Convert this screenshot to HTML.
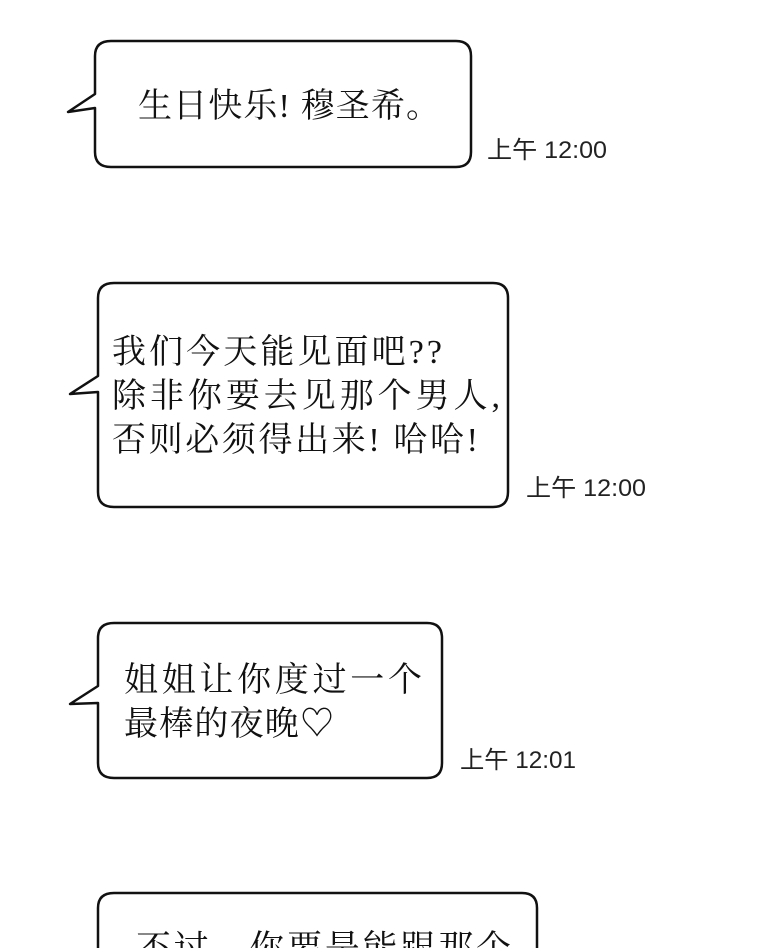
<!DOCTYPE html>
<html><head><meta charset="utf-8"><style>
html,body{margin:0;padding:0;background:#fff;}
svg{display:block}
.t{font-family:"Liberation Serif","Noto Serif CJK SC",serif;fill:#111;}
.ts{font-family:"Liberation Sans","Noto Sans CJK SC",sans-serif;fill:#222;font-size:24px;}
</style></head><body>
<svg width="760" height="948" viewBox="0 0 760 948" xmlns="http://www.w3.org/2000/svg">
<g fill="#fff" stroke="#111" stroke-width="2.5" stroke-linejoin="round">
<path d="M111,41 H456 Q471,41 471,56 V152 Q471,167 456,167 H111 Q95,167 95,152 V108 L68,112 L95,94 V56 Q95,41 111,41 Z"/>
<path d="M114,283 H493 Q508,283 508,298 V492 Q508,507 493,507 H114 Q98,507 98,492 V392 L70,394 L98,376 V298 Q98,283 114,283 Z"/>
<path d="M114,623 H427 Q442,623 442,638 V763 Q442,778 427,778 H114 Q98,778 98,763 V703 L70,704 L98,686 V638 Q98,623 114,623 Z"/>
<path d="M114,893 H522 Q537,893 537,908 V960 H98 V908 Q98,893 114,893 Z"/>
</g>
<text class="t" x="138" y="117" font-size="34" textLength="302" lengthAdjust="spacing">生日快乐! 穆圣希。</text>
<text class="ts" x="487" y="158" textLength="120" lengthAdjust="spacingAndGlyphs">上午 12:00</text>
<text class="t" x="112" y="363" font-size="34" textLength="330" lengthAdjust="spacing">我们今天能见面吧??</text>
<text class="t" x="112" y="407" font-size="34" textLength="388" lengthAdjust="spacing">除非你要去见那个男人,</text>
<text class="t" x="112" y="451" font-size="34" textLength="366" lengthAdjust="spacing">否则必须得出来! 哈哈!</text>
<text class="ts" x="526" y="496" textLength="120" lengthAdjust="spacingAndGlyphs">上午 12:00</text>
<text class="t" x="124" y="691" font-size="34" textLength="298" lengthAdjust="spacing">姐姐让你度过一个</text>
<text class="t" x="124" y="735" font-size="34" textLength="210" lengthAdjust="spacing">最棒的夜晚♡</text>
<text class="ts" x="460" y="768" textLength="116" lengthAdjust="spacingAndGlyphs">上午 12:01</text>
<text class="t" x="136" y="960" font-size="35" textLength="375" lengthAdjust="spacing">不过，你要是能跟那个</text>
</svg>
</body></html>
